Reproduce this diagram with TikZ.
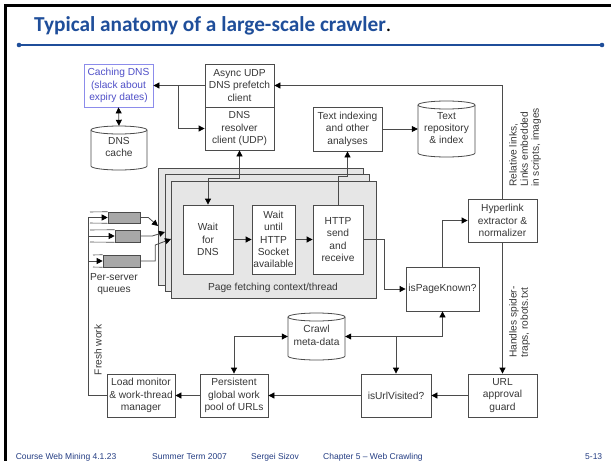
\documentclass[tikz,border=0pt]{standalone}
\usepackage{fontspec}
\setmainfont{Liberation Sans}
\newfontfamily\titlefont{Carlito}
\usetikzlibrary{arrows.meta}
\definecolor{ttl}{RGB}{31,78,154}
\definecolor{ln}{RGB}{75,75,75}
\definecolor{tx}{RGB}{55,55,55}
\definecolor{cdns}{RGB}{140,140,235}
\definecolor{cdnstx}{RGB}{80,80,200}
\definecolor{frc}{RGB}{230,230,230}
\definecolor{qg}{RGB}{168,168,168}
\definecolor{ftc}{RGB}{35,60,130}
\newcommand\mycyl[4]{%
  \path[fill=white,draw=ln,line width=0.8pt] (#1,{#2+4}) -- (#1,{#4-4})
    arc[start angle=180,end angle=360,x radius={(#3-#1)/2*1pt},y radius=4pt] -- (#3,{#2+4});
  \draw[fill=white,draw=ln,line width=0.8pt] ({(#1+#3)/2},{#2+4}) ellipse[x radius={(#3-#1)/2*1pt},y radius=4pt];}
\newcommand\lines[2]{\raisebox{#1}{\begin{tabular}{@{}c@{}}#2\end{tabular}}}
\begin{document}
\begin{tikzpicture}[x=1pt,y=-1pt,
  >={Triangle[length=6pt,width=6pt,color=black]},
  txt/.style={text=tx,font=\fontsize{10.2}{12.4}\selectfont,inner sep=0pt},
  box/.style={txt,draw=ln,line width=0.8pt,fill=white,align=center},
  frame/.style={draw=ln,line width=0.8pt,fill=frc,inner sep=0pt},
  queue/.style={draw=ln,line width=0.6pt,fill=qg,inner sep=0pt},
  cyl/.style={txt,align=center},
  conn/.style={draw=ln,line width=0.8pt},
  arr/.style={conn,->},
  dbl/.style={conn,<->},
  foot/.style={anchor=base west,inner sep=0pt,text=ftc,font=\fontsize{8.5}{10}\selectfont},
  rot/.style={txt,rotate=90,align=left}]
\useasboundingbox (0,0) rectangle (611,461);
% slide frame
\fill[black] (4,4) rectangle (611,6.5);
\fill[black] (4,4) rectangle (6.5,461);
% title
\node[anchor=base west,inner sep=0pt,text=ttl,font=\titlefont\bfseries\fontsize{21.3}{21.3}\selectfont] (title) at (34,31)
  {Typical anatomy of a large-scale crawler\textcolor{black}{\mdseries .}};
\draw[ttl,line width=1.6pt] (19,45) -- (602,45);
\fill[ttl] (19,45) circle (2.3pt) (602,45) circle (2.3pt);
% footer
\node[foot] (f1) at (15.6,459.5) {Course Web Mining 4.1.23};
\node[foot] (f2) at (152,459.5) {Summer Term 2007};
\node[foot] (f3) at (251,459.5) {Sergei Sizov};
\node[foot] (f4) at (323,459.5) {Chapter 5 -- Web Crawling};
\node[foot] (f5) at (585,459.5) {5-13};
% top boxes
\node[box,draw=cdns,text=cdnstx,minimum width=69,minimum height=43] (cdns) at (118.5,85.5)
  {Caching DNS\\(slack about\\expiry dates)};
\node[box,minimum width=69,minimum height=43] (async) at (239.5,85.5) {Async UDP\\DNS prefetch\\client};
\node[box,minimum width=69,minimum height=43] (resolver) at (239.5,128.5) {DNS\\resolver\\client (UDP)};
\node[box,minimum width=69,minimum height=44] (textidx) at (347.5,129) {Text indexing\\and other\\analyses};
% cylinders
\mycyl{91}{126}{147}{170}
\node[cyl,minimum width=56,minimum height=44] (dnscache) at (119,148) {\lines{-4pt}{DNS\\cache}};
\mycyl{418}{101}{475}{157}
\node[cyl,minimum width=57,minimum height=56] (textrepo) at (446.5,129) {\lines{-3pt}{Text\\repository\\\& index}};
\mycyl{288}{313}{345}{360}
\node[cyl,minimum width=57,minimum height=47] (crawl) at (316.5,336.5) {\lines{-2pt}{Crawl\\meta-data}};
% page fetching frames
\node[frame,minimum width=205,minimum height=117] (fr1) at (260.5,226.5) {};
\node[frame,minimum width=204,minimum height=117] (fr2) at (267,232.5) {};
\node[frame,minimum width=205,minimum height=117] (fr3) at (273.5,239.5) {};
\node[txt] (pflabel) at (273,288) {Page fetching context/thread};
\node[box,minimum width=50,minimum height=69] (waitdns) at (208,239.5) {Wait\\for\\DNS};
\node[box,minimum width=43,minimum height=69] (waitsock) at (273.5,239.5) {Wait\\until\\HTTP\\Socket\\available};
\node[box,minimum width=50,minimum height=69] (http) at (338,239.5) {HTTP\\send\\and\\receive};
% right and bottom boxes
\node[box,minimum width=73,minimum height=44] (ispk) at (442.5,289) {isPageKnown?};
\node[box,minimum width=69,minimum height=43] (hyper) at (502.5,220.5) {Hyperlink\\extractor \&\\normalizer};
\node[box,minimum width=69,minimum height=43] (guard) at (502.5,395.5) {URL\\approval\\guard};
\node[box,minimum width=70,minimum height=43] (isurl) at (396,395.5) {isUrlVisited?};
\node[box,minimum width=68,minimum height=43] (persist) at (234,395.5) {Persistent\\global work\\pool of URLs};
\node[box,minimum width=68,minimum height=43] (load) at (141,395.5) {Load monitor\\\& work-thread\\manager};
% queues
\node[queue,minimum width=32,minimum height=11] (q1) at (124,217.5) {};
\node[queue,minimum width=25,minimum height=12] (q2) at (127.5,236) {};
\node[queue,minimum width=37,minimum height=12] (q3) at (121.5,261) {};
\draw[conn,line width=0.6pt] (90,212) -- (q1.north west) (90,223) -- (q1.south west)
  (90,230) -- (q2.north west) (90,242) -- (q2.south west)
  (93,255) -- (q3.north west) (93,267) -- (q3.south west);
\node[txt,align=center] (pslabel) at (114,284) {Per-server\\queues};
\coordinate (fw) at (88,217.5);
\coordinate (t1) at (158,226);
\coordinate (t2) at (165,232);
\coordinate (t3) at (171,239);
% connectors
\draw[conn] (load.west) -| (fw);
\draw[arr] (fw) -- (q1.west);
\draw[arr] (fw |- q2.west) -- (q2.west);
\draw[arr] (fw |- q3.west) -- (q3.west);
\draw[arr] (q1.east) -- ++(8,0) -- (t1);
\draw[arr] (q2.east) -- ++(12,0) -- (t2);
\draw[arr] (q3.east) -- ++(15,0) -- ++(0,-16) -- (t3);
\node[txt,rotate=90] (fresh) at (98,350) {Fresh work};
\draw[arr] (hyper.north) |- (async.east);
\draw[arr] (async.west) -- (cdns.east);
\coordinate (br) at (178,85.5);
\draw[arr] (br) |- (resolver.west);
\draw[dbl] (cdns.south) -- (dnscache.north);
\draw[dbl] (resolver.south) -- ++(0,28) -| (waitdns.north);
\draw[arr] (http.north) -- ++(0,-28) -| (textidx.south);
\draw[arr] (textidx.east) -- (textrepo.west);
\draw[arr] (waitdns.east) -- (waitsock.west);
\draw[arr] (waitsock.east) -- (http.west);
\draw[arr] (http.east) -- ++(21,0) |- (ispk.west);
\draw[arr] (ispk.north) |- (hyper.west);
\draw[arr] (hyper.south) -- (guard.north);
\draw[arr] (guard.west) -- (isurl.east);
\coordinate (j) at (396,336.5);
\draw[arr] (j) -- (isurl.north);
\draw[arr] (j) -- (crawl.east);
\draw[arr] (j) -| (ispk.south);
\draw[dbl] (crawl.west) -| (persist.north);
\draw[arr] (isurl.west) -- (persist.east);
\draw[arr] (persist.west) -- (load.east);
% rotated labels
\node[rot,anchor=north west,font=\fontsize{10.2}{11.2}\selectfont] (rel) at (509,187)
  {Relative links,\\Links embedded\\in scripts, images};
\node[rot,anchor=north west,font=\fontsize{10.2}{11.2}\selectfont] (hand) at (509,358)
  {Handles spider-\\traps, robots.txt};
\end{tikzpicture}
\end{document}
